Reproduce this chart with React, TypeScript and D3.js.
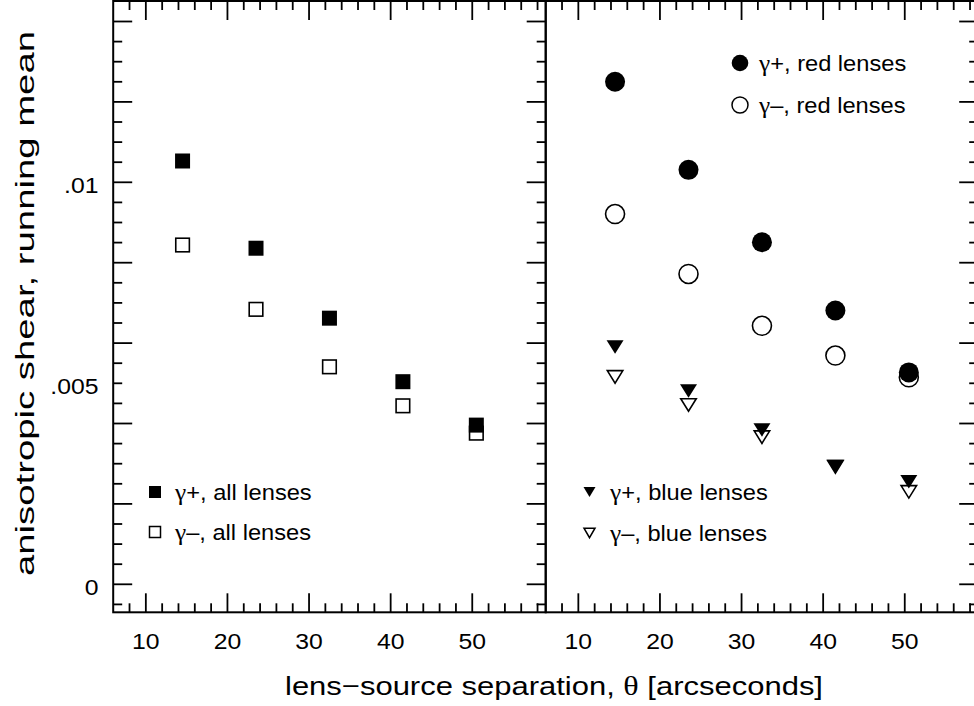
import React from "react";
import * as d3 from "d3";

const separations = [14.5, 23.5, 32.5, 41.5, 50.5];
const allPlus = [0.01053, 0.00836, 0.00662, 0.00504, 0.00396];
const allMinus = [0.00844, 0.00684, 0.00541, 0.00444, 0.00376];
const redPlus = [0.0125, 0.01031, 0.00851, 0.00681, 0.00527];
const redMinus = [0.00921, 0.00772, 0.00643, 0.00569, 0.00515];
const bluePlus = [0.0059, 0.00481, 0.00384, 0.00293, 0.00255];
const blueMinus = [0.00516, 0.00446, 0.00366, 0.00292, 0.0023];
const xTickLabels = [10, 20, 30, 40, 50];
const yTickLabels = [
  { v: 0, t: "0" },
  { v: 0.005, t: ".005" },
  { v: 0.01, t: ".01" },
];
const legendLabels = ["all lenses", "red lenses", "blue lenses"];

const W = 974;
const H = 706;
const TOP = 1;
const BOTTOM = 612.3;
const FONT = "'Liberation Sans', Arial, Helvetica, sans-serif";
const SERIF = "'Liberation Serif', 'Times New Roman', serif";
const SX = 1.1;

const y = d3.scaleLinear().domain([0, 0.01]).range([584.3, 182.3]);
const xL = d3.scaleLinear().domain([6, 59]).range([113.2, 545.7]);
const xR = d3.scaleLinear().domain([6, 59]).range([545.7, 978.2]);

const xTicks = d3.range(8, 59, 2);
const yTicks = d3.range(-5, 146, 5).map((k) => k / 10000);

const tri = (cx: number, cy: number, w: number, h: number) =>
  `M${cx - w / 2},${cy - h / 2}L${cx + w / 2},${cy - h / 2}L${cx},${cy + h / 2}Z`;

function T({ x, y, size, anchor = "start", children }: { x: number; y: number; size: number; anchor?: string; children: React.ReactNode }) {
  return (
    <text
      transform={`translate(${x},${y}) scale(${SX},1)`}
      textAnchor={anchor}
      fontSize={size}
      fontFamily={FONT}
      fill="#000"
    >
      {children}
    </text>
  );
}

function Leg({ x, y, sign, label }: { x: number; y: number; sign: string; label: string }) {
  return (
    <T x={x} y={y} size={21.5}>
      <tspan fontFamily={SERIF} fontSize={23}>γ</tspan>
      {sign + ", " + label}
    </T>
  );
}

function Panel({ x, leftTicks, rightTicks }: { x: d3.ScaleLinear<number, number>; leftTicks: boolean; rightTicks: boolean }) {
  const [x0, x1] = x.range();
  const sw = 1.8;
  return (
    <g>
      {xTicks.map((t) => {
        const len = t % 10 === 0 ? 19 : 9;
        const px = x(t);
        return (
          <g key={t}>
            <line x1={px} x2={px} y1={BOTTOM} y2={BOTTOM - len} stroke="#000" strokeWidth={sw} />
            <line x1={px} x2={px} y1={TOP} y2={TOP + len} stroke="#000" strokeWidth={sw} />
          </g>
        );
      })}
      {yTicks.map((t) => {
        const major = Math.round(t * 10000) % 20 === 0;
        const len = major ? 19 : 9;
        const py = y(t);
        if (py < TOP + 2 || py > BOTTOM - 2) return null;
        return (
          <g key={t}>
            {leftTicks && <line x1={x0} x2={x0 + len} y1={py} y2={py} stroke="#000" strokeWidth={sw} />}
            {rightTicks && <line x1={x1} x2={x1 - len} y1={py} y2={py} stroke="#000" strokeWidth={sw} />}
          </g>
        );
      })}
      {xTickLabels.map((t) => (
        <T key={t} x={x(t)} y={648.5} size={22.5} anchor="middle">
          {t}
        </T>
      ))}
      <rect x={x0} y={TOP} width={x1 - x0} height={BOTTOM - TOP} fill="none" stroke="#000" strokeWidth={2} />
    </g>
  );
}

export default function App() {
  return (
    <svg width={W} height={H} style={{ position: "absolute", left: 0, top: 0, background: "#fff" }}>
      <rect x={0} y={0} width={W} height={H} fill="#fff" />
      <Panel x={xL} leftTicks={true} rightTicks={true} />
      <Panel x={xR} leftTicks={false} rightTicks={true} />

      {yTickLabels.map((d) => (
        <T key={d.t} x={98.5} y={y(d.v) + 10.3} size={22.5} anchor="end">
          {d.t}
        </T>
      ))}

      <text
        transform={`translate(34,${303.5}) rotate(-90)`}
        textAnchor="middle"
        fontSize={25}
        fontFamily={FONT}
        textLength={545}
        lengthAdjust="spacingAndGlyphs"
      >
        anisotropic shear, running mean
      </text>
      <text x={554} y={695} textAnchor="middle" fontSize={26} fontFamily={FONT} textLength={538} lengthAdjust="spacingAndGlyphs">
        lens−source separation, <tspan fontFamily={SERIF} fontSize={27}>θ</tspan> [arcseconds]
      </text>

      {/* left panel: all lenses */}
      {separations.map((s, i) => (
        <rect key={"am" + i} x={xL(s) - 6.8} y={y(allMinus[i]) - 6.8} width={13.6} height={13.6} fill="#fff" stroke="#000" strokeWidth={1.6} />
      ))}
      {separations.map((s, i) => (
        <rect key={"ap" + i} x={xL(s) - 7.5} y={y(allPlus[i]) - 7.5} width={15} height={15} fill="#000" />
      ))}

      {/* right panel: red lenses */}
      {separations.map((s, i) => (
        <circle key={"rm" + i} cx={xR(s)} cy={y(redMinus[i])} r={9.5} fill="#fff" stroke="#000" strokeWidth={1.6} />
      ))}
      {separations.map((s, i) => (
        <circle key={"rp" + i} cx={xR(s)} cy={y(redPlus[i])} r={10} fill="#000" />
      ))}

      {/* right panel: blue lenses */}
      {separations.map((s, i) => (
        <path key={"bm" + i} d={tri(xR(s), y(blueMinus[i]), 15.5, 12.5)} fill="#fff" stroke="#000" strokeWidth={1.6} />
      ))}
      {separations.map((s, i) => (
        <path key={"bp" + i} d={tri(xR(s), y(bluePlus[i]), 17, 13.5)} fill="#000" />
      ))}

      {/* legends */}
      <rect x={155 - 6} y={492 - 6} width={12} height={12} fill="#000" />
      <Leg x={175} y={499.5} sign="+" label={legendLabels[0]} />
      <rect x={155 - 5.5} y={532 - 5.5} width={11} height={11} fill="#fff" stroke="#000" strokeWidth={1.5} />
      <Leg x={175} y={539.5} sign="–" label={legendLabels[0]} />

      <circle cx={740} cy={63} r={8.3} fill="#000" />
      <Leg x={759} y={70.5} sign="+" label={legendLabels[1]} />
      <circle cx={740} cy={105} r={8} fill="#fff" stroke="#000" strokeWidth={1.5} />
      <Leg x={759} y={112.5} sign="–" label={legendLabels[1]} />

      <path d={tri(589.5, 492, 12, 10)} fill="#000" />
      <Leg x={610} y={499.5} sign="+" label={legendLabels[2]} />
      <path d={tri(589.5, 533, 11, 9.5)} fill="#fff" stroke="#000" strokeWidth={1.5} />
      <Leg x={610} y={540.5} sign="–" label={legendLabels[2]} />
    </svg>
  );
}
